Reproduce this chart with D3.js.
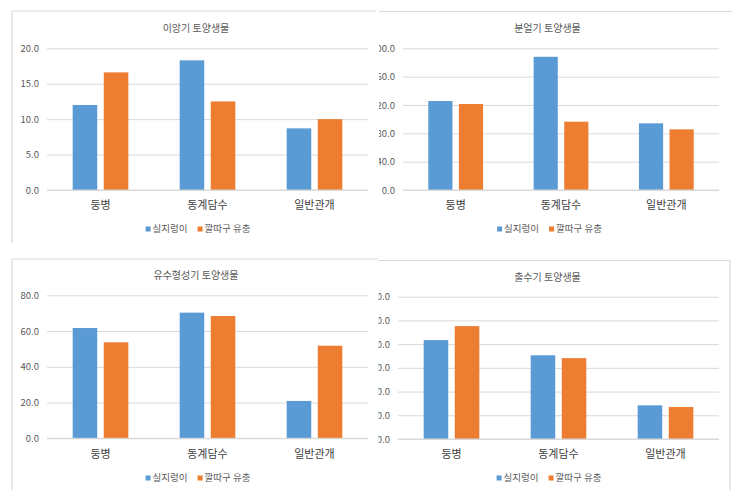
<!DOCTYPE html>
<html>
<head>
<meta charset="utf-8">
<script src="https://cdn.jsdelivr.net/npm/d3@7"></script>
<style>
  html, body { margin: 0; padding: 0; background: #fff; }
  svg { display: block; font-family: "Noto Sans CJK KR", "Noto Sans", sans-serif; }
</style>
</head>
<body>
<svg id="chart" width="740" height="504"></svg>
<script>
// ---- data ----
const categories = ["둥병", "동계담수", "일반관개"];
const seriesNames = ["실지렁이", "깔따구 유충"];
const seriesColors = ["#5B9BD5", "#ED7D31"];

const titles = ["이앙기 토양생물", "분얼기 토양생물", "유수형성기 토양생물", "출수기 토양생물"];

const ticks1 = [0, 5, 10, 15, 20];
const worm1 = [12.0, 18.3, 8.7];
const larva1 = [16.6, 12.5, 10.0];

const ticks2 = [0, 40, 80, 120, 160, 200];
const worm2 = [125.6, 188.0, 94.1];
const larva2 = [121.4, 96.4, 85.6];

const ticks3 = [0, 20, 40, 60, 80];
const worm3 = [61.7, 70.3, 20.9];
const larva3 = [53.7, 68.4, 51.8];

const ticks4 = [0, 10, 20, 30, 40, 50, 60];
const worm4 = [41.7, 35.3, 14.2];
const larva4 = [47.6, 34.1, 13.5];

// ---- layout ----
const panels = [
  { title: titles[0], ticks: ticks1, worm: worm1, larva: larva1,
    x0: 47, x1: 368, yTop: 48.3, yBot: 190, titleX: 196, titleY: 28, catY: 205, legY: 229, legX: 198,
    clipX: 0, clipW: 376, borders: [[12, 11, 12, 243], [12, 11, 376, 11]] },
  { title: titles[1], ticks: ticks2, worm: worm2, larva: larva2,
    x0: 403, x1: 719, yTop: 48.3, yBot: 190, titleX: 547.5, titleY: 28, catY: 205, legY: 229, legX: 549.5,
    clipX: 379, clipW: 361, borders: [[377, 11.5, 732, 11.5]] },
  { title: titles[2], ticks: ticks3, worm: worm3, larva: larva3,
    x0: 47, x1: 368, yTop: 295.3, yBot: 438.3, titleX: 196, titleY: 275, catY: 454, legY: 478, legX: 198,
    clipX: 0, clipW: 378, borders: [[12, 259, 12, 490], [12, 259, 378, 259]] },
  { title: titles[3], ticks: ticks4, worm: worm4, larva: larva4,
    x0: 398, x1: 719, yTop: 296.7, yBot: 439, titleX: 547.5, titleY: 277, catY: 454, legY: 478, legX: 549,
    clipX: 378.5, clipW: 362, borders: [[378, 260.5, 730, 260.5], [730, 260.5, 730, 490]] }
];

const svg = d3.select("#chart");
const defs = svg.append("defs");

panels.forEach((p, i) => {
  defs.append("clipPath").attr("id", "clip" + i)
    .append("rect").attr("x", p.clipX).attr("y", 0).attr("width", p.clipW).attr("height", 504);

  const g = svg.append("g").attr("clip-path", `url(#clip${i})`);

  // panel border
  p.borders.forEach(b => {
    g.append("line").attr("x1", b[0]).attr("y1", b[1]).attr("x2", b[2]).attr("y2", b[3])
      .attr("stroke", "#d9d9d9").attr("stroke-width", 1.2);
  });

  const maxT = p.ticks[p.ticks.length - 1];
  const y = d3.scaleLinear().domain([0, maxT]).range([p.yBot, p.yTop]);
  const x = d3.scaleBand().domain(categories).range([p.x0, p.x1])
    .paddingInner(0.48).paddingOuter(0.24);
  const xs = d3.scaleBand().domain(seriesNames).range([0, x.bandwidth()])
    .paddingInner(0.21).paddingOuter(0);

  // gridlines + labels via axis
  const axis = d3.axisLeft(y).tickValues(p.ticks).tickFormat(d3.format(".1f"))
    .tickSize(-(p.x1 - p.x0)).tickPadding(8);
  const ag = g.append("g").attr("transform", `translate(${p.x0},0)`).call(axis);
  ag.select(".domain").remove();
  ag.selectAll(".tick line").attr("stroke", "#d9d9d9").attr("stroke-width", 1);
  ag.selectAll(".tick text").attr("fill", "#595959").attr("font-size", 9.5)
    .attr("font-family", "'Noto Sans CJK KR', sans-serif");

  // bars
  const data = [p.worm, p.larva];
  data.forEach((vals, si) => {
    g.append("g").selectAll("rect").data(vals).join("rect")
      .attr("x", (d, ci) => x(categories[ci]) + xs(seriesNames[si]))
      .attr("width", xs.bandwidth())
      .attr("y", d => y(d))
      .attr("height", d => y(0) - y(d))
      .attr("fill", seriesColors[si]);
  });

  // baseline over bars
  g.append("line").attr("x1", p.x0).attr("x2", p.x1).attr("y1", y(0)).attr("y2", y(0))
    .attr("stroke", "#d9d9d9").attr("stroke-width", 1);

  // category labels
  g.append("g").selectAll("text").data(categories).join("text")
    .attr("x", d => x(d) + x.bandwidth() / 2)
    .attr("y", p.catY).attr("dy", "0.35em")
    .attr("text-anchor", "middle").attr("font-size", 11).attr("fill", "#404040")
    .text(d => d);

  // title
  g.append("text").attr("x", p.titleX).attr("y", p.titleY).attr("dy", "0.35em")
    .attr("text-anchor", "middle").attr("font-size", 10).attr("fill", "#595959")
    .text(p.title);

  // legend
  const lg = g.append("g");
  let cx = 0;
  const items = [];
  seriesNames.forEach((name, si) => {
    const it = lg.append("g");
    it.append("rect").attr("x", 0).attr("y", p.legY - 2.5).attr("width", 5).attr("height", 5)
      .attr("fill", seriesColors[si]);
    const t = it.append("text").attr("x", 7).attr("y", p.legY).attr("dy", "0.35em")
      .attr("font-size", 9.5).attr("fill", "#595959").text(name);
    const w = 7 + t.node().getComputedTextLength();
    items.push({ it, w });
  });
  const gap = 10;
  const total = items.reduce((s, d) => s + d.w, 0) + gap * (items.length - 1);
  cx = p.legX - total / 2;
  items.forEach(d => { d.it.attr("transform", `translate(${cx},0)`); cx += d.w + gap; });
});
</script>
</body>
</html>
